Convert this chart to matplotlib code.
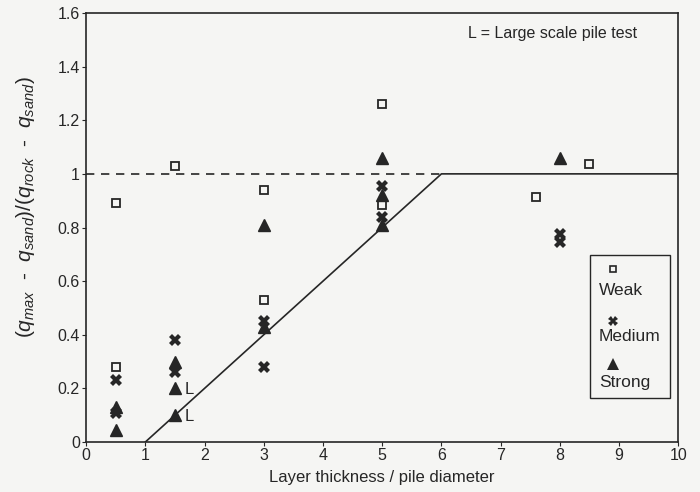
import numpy as np
import matplotlib
matplotlib.use("Agg")
import matplotlib.pyplot as plt
from matplotlib.patches import Rectangle
from matplotlib.ticker import FormatStrFormatter

plt.rcParams["font.family"] = ["Liberation Sans", "DejaVu Sans"]
plt.rcParams["mathtext.fontset"] = "custom"
plt.rcParams["mathtext.it"] = "Liberation Sans:italic"
plt.rcParams["mathtext.rm"] = "Liberation Sans"

# data
weak_x = [0.5, 0.5, 1.5, 3, 3, 5, 5, 7.6, 8.5]
weak_y = [0.89, 0.28, 1.03, 0.94, 0.53, 1.26, 0.885, 0.915, 1.035]

medium_x = [0.5, 0.5, 1.5, 1.5, 3, 3, 5, 5, 8, 8]
medium_y = [0.23, 0.11, 0.38, 0.26, 0.45, 0.28, 0.955, 0.84, 0.775, 0.745]

strong_x = [0.5, 0.5, 1.5, 1.5, 1.5, 3, 3, 5, 5, 5, 8]
strong_y = [0.13, 0.045, 0.30, 0.20, 0.10, 0.43, 0.81, 1.06, 0.92, 0.81, 1.06]

# large scale pile tests (labelled "L")
large_x = [1.5, 1.5]
large_y = [0.20, 0.10]

# design line
trend_x = [1, 6, 10]
trend_y = [0, 1, 1]
dash_x = [0, 6]
dash_y = [1, 1]

x_ticks = np.arange(0, 11, 1)
y_ticks = np.arange(0, 1.61, 0.2)

ink = "#262626"

fig = plt.figure(figsize=(7, 4.92), dpi=100, facecolor="#f5f5f3")
ax = fig.add_axes([0.123, 0.1016, 0.846, 0.872])
ax.set_facecolor("#f5f5f3")

ax.plot(dash_x, dash_y, color=ink, lw=1.2, ls=(0, (5, 4)))
ax.plot(trend_x, trend_y, color=ink, lw=1.2)

ax.plot(weak_x, weak_y, ls="none", marker="s", ms=5.5, mfc="none", mec=ink, mew=1.3)
ax.plot(medium_x, medium_y, ls="none", marker="X", ms=8, color=ink, mew=0)
ax.plot(strong_x, strong_y, ls="none", marker="^", ms=9, color=ink)

for lx, ly in zip(large_x, large_y):
    ax.annotate("L", (lx, ly), xytext=(7, -1), textcoords="offset points",
                va="center", ha="left", fontsize=12, color=ink)

ax.text(0.931, 0.953, "L = Large scale pile test", transform=ax.transAxes,
        ha="right", va="center", fontsize=11.5, color=ink)

# legend box with markers above the labels
ax.add_patch(Rectangle((0.851, 0.103), 0.135, 0.333, transform=ax.transAxes,
                       fill=False, ec=ink, lw=1.0, zorder=5))
legend_items = [("s", "Weak", 0.403, 0.354), ("X", "Medium", 0.282, 0.245),
                ("^", "Strong", 0.182, 0.138)]
for mk, name, ym, yt in legend_items:
    if mk == "s":
        ax.plot(0.890, ym, transform=ax.transAxes, marker=mk, ms=5, mfc="none",
                mec=ink, mew=1.2, clip_on=False)
    else:
        ax.plot(0.890, ym, transform=ax.transAxes, marker=mk, ms=7 if mk == "X" else 8,
                color=ink, mew=0, clip_on=False)
    ax.text(0.866, yt, name, transform=ax.transAxes, ha="left",
            va="center", fontsize=12.5, color=ink)

ax.set_xlim(0, 10)
ax.set_ylim(0, 1.6)
ax.set_xticks(x_ticks)
ax.set_yticks(y_ticks)
ax.yaxis.set_major_formatter(FormatStrFormatter("%g"))
ax.tick_params(direction="out", length=3, labelsize=11.5, colors=ink, pad=1.5)

for sp in ax.spines.values():
    sp.set_color(ink)
    sp.set_linewidth(1.2)

ax.set_xlabel("Layer thickness / pile diameter", fontsize=12, color=ink)
ax.xaxis.set_label_coords(0.5, -0.065)
ax.set_ylabel(r"$(q_{max}$  -  $q_{sand})/(q_{rock}$  -  $q_{sand})$", fontsize=15,
              color=ink)
ax.yaxis.set_label_coords(-0.083, 0.548)

fig.savefig("out.png", dpi=100, facecolor=fig.get_facecolor())
